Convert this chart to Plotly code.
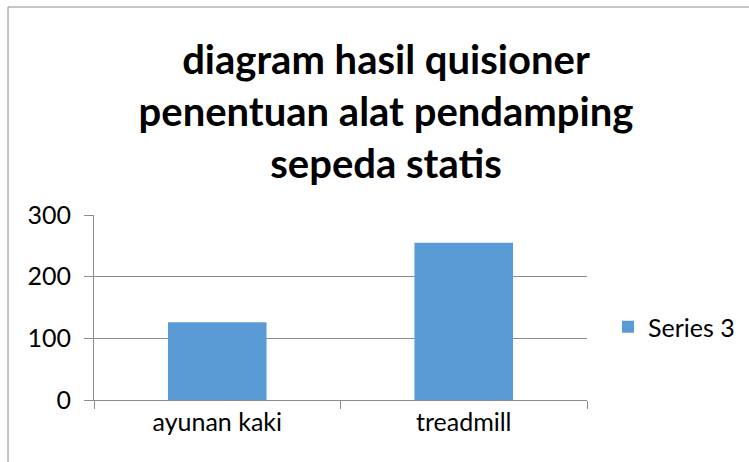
import plotly.graph_objects as go

categories = ["ayunan kaki", "treadmill"]
values = [126, 255]
series_name = "Series 3"
title_text = "diagram hasil quisioner<br>penentuan alat pendamping<br>sepeda statis"

W, H = 749, 462
L, R, T, B = 94, 162, 215, 62
pw, ph = W - L - R, H - T - B

fig = go.Figure()
fig.add_trace(go.Bar(x=categories, y=values, name=series_name,
                     marker=dict(color="#5B9BD5", line=dict(width=0)),
                     width=0.4, showlegend=True))

font = "Lato, 'Open Sans', sans-serif"
fig.update_layout(
    width=W, height=H,
    margin=dict(l=L, r=R, t=T, b=B, pad=0, autoexpand=False),
    paper_bgcolor="white", plot_bgcolor="white",
    font=dict(family=font, color="black", size=25),
    title=dict(text="<b>" + title_text + "</b>", x=386 / W, xanchor="center",
               y=1 - 74 / H, yanchor="middle",
               font=dict(family=font, size=40, color="black")),
    showlegend=True,
    legend=dict(x=(608 - L) / pw, y=(400 - 327) / ph, xanchor="left", yanchor="middle",
                font=dict(size=25), itemwidth=30, bgcolor="rgba(0,0,0,0)"),
    bargap=0.6,
)
fig.update_xaxes(showline=True, linecolor="#8c8c8c", linewidth=1,
                 ticks="outside", ticklen=8, tickcolor="#8c8c8c",
                 tickson="boundaries", showgrid=False, mirror=False,
                 automargin=False)
fig.update_yaxes(range=[0, 300], dtick=100, showline=True, linecolor="#8c8c8c",
                 linewidth=1, ticks="outside", ticklen=9, tickcolor="#8c8c8c",
                 showgrid=True, gridcolor="#8c8c8c", gridwidth=1, zeroline=False,
                 ticklabelstandoff=8, automargin=False)

fig.add_shape(type="rect", xref="paper", yref="paper",
              x0=(8 - L) / pw, x1=2.0, y0=-1.0, y1=(H - B - 7) / ph,
              line=dict(color="#8c8c8c", width=1), fillcolor="rgba(0,0,0,0)",
              layer="below")

fig.write_html("out.html", config={"displayModeBar": False},
               post_script="document.body.style.margin='0';")
